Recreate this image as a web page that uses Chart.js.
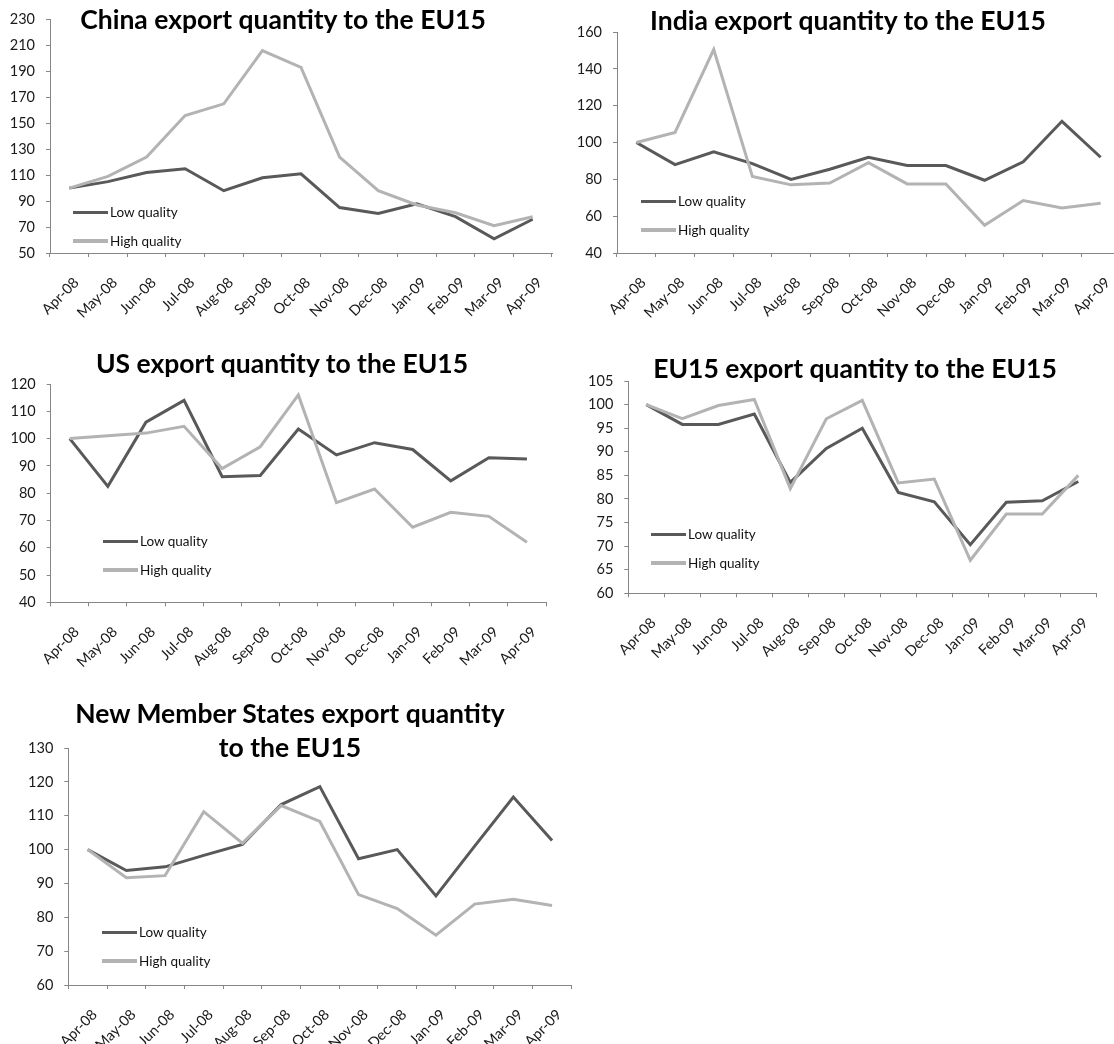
<!DOCTYPE html>
<html>
<head>
<meta charset="utf-8">
<script src="https://cdn.jsdelivr.net/npm/chart.js@4.4.0/dist/chart.umd.min.js"></script>
<style>
  html, body { margin: 0; padding: 0; background: #ffffff; }
  body { width: 1114px; height: 1044px; position: relative; overflow: hidden; font-family: Lato, "DejaVu Sans", sans-serif; }
  .box { position: absolute; }
  .box canvas { position: absolute; left: 0; top: 0; }
  .title { position: absolute; font-weight: 700; font-size: 26.5px; color: #000; white-space: nowrap; text-align: center; line-height: 34px; transform: translateX(-50%); }
  .leg { position: absolute; font-size: 13.5px; color: #111; white-space: nowrap; line-height: 16px; }
  .leg span.ln { display: inline-block; width: 35px; height: 3.5px; vertical-align: middle; margin-right: 2px; position: relative; top: -1px; }
</style>
</head>
<body>
<script>
// ---------- data ----------
const months = ['Apr-08','May-08','Jun-08','Jul-08','Aug-08','Sep-08','Oct-08','Nov-08','Dec-08','Jan-09','Feb-09','Mar-09','Apr-09'];
const seriesNames = ['Low quality', 'High quality'];

const chinaLow  = [100, 105, 112, 115, 98, 108, 111, 85, 80.5, 88, 78, 61, 76];
const chinaHigh = [100, 109, 124, 156, 165, 206, 193, 124, 98, 87, 81, 71, 78];

const indiaLow  = [100, 88, 95, 88.5, 80, 85.5, 92, 87.5, 87.5, 79.5, 89.5, 111.5, 92];
const indiaHigh = [100, 105.5, 150.5, 81.5, 77, 78, 89, 77.5, 77.5, 55, 68.5, 64.5, 67];

const usLow  = [100, 82.5, 106, 114, 86, 86.5, 103.5, 94, 98.5, 96, 84.5, 93, 92.5];
const usHigh = [100, 101, 102, 104.5, 89, 97, 116, 76.5, 81.5, 67.5, 73, 71.5, 62];

const eu15Low  = [100, 95.8, 95.8, 98, 83.5, 90.7, 95, 81.4, 79.4, 70.3, 79.3, 79.6, 83.7];
const eu15High = [100, 97, 99.8, 101.1, 82.2, 97, 100.9, 83.4, 84.2, 67, 76.8, 76.8, 85];

const nmsLow  = [100, 93.8, 94.9, 98.3, 101.5, 113.3, 118.6, 97.3, 100, 86.3, 101, 115.5, 102.7];
const nmsHigh = [100, 91.7, 92.3, 111.2, 101.9, 113, 108.3, 86.7, 82.6, 74.7, 83.9, 85.3, 83.5];

const titles = [
  ['China export quantity to the EU15'],
  ['India export quantity to the EU15'],
  ['US export quantity to the EU15'],
  ['EU15 export quantity to the EU15'],
  ['New Member States export quantity', 'to the EU15']
];
const yRanges = [[50, 230, 20], [40, 160, 20], [40, 120, 10], [60, 105, 5], [60, 130, 10]];

// ---------- layout (page coordinates) ----------
const panels = [
  { L: 0,   T: 0,   W: 560, H: 340, ax: 50,    top: 19.5, bot: 253,   end: 552,
    low: chinaLow, high: chinaHigh, tx: 283, ty: 2, legX: 73, legY: 204 },
  { L: 560, T: 0,   W: 566, H: 340, ax: 617,   top: 32,   bot: 253,   end: 1120,
    low: indiaLow, high: indiaHigh, tx: 848, ty: 3, legX: 641, legY: 193 },
  { L: 0,   T: 340, W: 560, H: 345, ax: 50.7,  top: 384,  bot: 602.3, end: 546,
    low: usLow, high: usHigh, tx: 282, ty: 346, legX: 103, legY: 533 },
  { L: 560, T: 340, W: 554, H: 345, ax: 628.3, top: 381,  bot: 593.3, end: 1096.3,
    low: eu15Low, high: eu15High, tx: 855, ty: 351, legX: 651, legY: 526 },
  { L: 0,   T: 690, W: 600, H: 354, ax: 68.3,  top: 748,  bot: 985,   end: 571.4,
    low: nmsLow, high: nmsHigh, tx: 290, ty: 696, legX: 102, legY: 924 }
];

const LOW_COLOR = '#595959';
const HIGH_COLOR = '#b3b3b3';
const AXIS_COLOR = '#868686';
Chart.defaults.font.family = 'Lato, "DejaVu Sans", sans-serif';

panels.forEach((p, i) => {
  const box = document.createElement('div');
  box.className = 'box';
  box.style.left = p.L + 'px'; box.style.top = p.T + 'px';
  box.style.width = p.W + 'px'; box.style.height = p.H + 'px';
  const cv = document.createElement('canvas');
  cv.width = p.W; cv.height = p.H;
  cv.style.width = p.W + 'px'; cv.style.height = p.H + 'px';
  box.appendChild(cv);
  document.body.appendChild(box);

  const yW = p.ax - p.L;
  const xH = (p.T + p.H) - p.bot;
  const padTop = p.top - p.T;
  const padRight = p.W - (p.end - p.L);
  const [ymin, ymax, ystep] = yRanges[i];

  new Chart(cv.getContext('2d'), {
    type: 'line',
    data: {
      labels: months,
      datasets: [
        { label: seriesNames[0], data: p.low, borderColor: LOW_COLOR, backgroundColor: LOW_COLOR,
          borderWidth: 3, pointRadius: 0, tension: 0, fill: false, order: 1 },
        { label: seriesNames[1], data: p.high, borderColor: HIGH_COLOR, backgroundColor: HIGH_COLOR,
          borderWidth: 3, pointRadius: 0, tension: 0, fill: false, order: 0 }
      ]
    },
    options: {
      responsive: false,
      animation: false,
      devicePixelRatio: 1,
      layout: { padding: { left: 0, top: padTop, right: padRight, bottom: 0 } },
      plugins: { legend: { display: false }, title: { display: false }, tooltip: { enabled: false } },
      scales: {
        x: {
          type: 'category',
          offset: true,
          grid: { offset: true, drawOnChartArea: false, drawTicks: true, tickLength: 4, color: AXIS_COLOR, lineWidth: 1 },
          border: { display: true, color: AXIS_COLOR, width: 1 },
          ticks: { autoSkip: false, minRotation: 45, maxRotation: 45, padding: 17, labelOffset: 7,
                   color: '#1a1a1a', font: { size: 14.5 } },
          afterFit: (s) => { s.height = xH; s.paddingLeft = 0; s.paddingRight = 0; }
        },
        y: {
          min: ymin, max: ymax,
          grid: { drawOnChartArea: false, drawTicks: true, tickLength: 4, color: AXIS_COLOR, lineWidth: 1 },
          border: { display: true, color: AXIS_COLOR, width: 1 },
          ticks: { stepSize: ystep, padding: 11, color: '#1a1a1a', font: { size: 14.5 } },
          afterFit: (s) => { s.width = yW; s.paddingTop = 0; s.paddingBottom = 0; }
        }
      }
    }
  });

  // title
  titles[i].forEach((line, k) => {
    const t = document.createElement('div');
    t.className = 'title';
    t.textContent = line;
    t.style.left = p.tx + 'px';
    t.style.top = (p.ty + k * 34) + 'px';
    document.body.appendChild(t);
  });

  // legend
  [[seriesNames[0], LOW_COLOR, 0], [seriesNames[1], HIGH_COLOR, 1]].forEach(([name, col, k]) => {
    const lg = document.createElement('div');
    lg.className = 'leg';
    lg.style.left = p.legX + 'px';
    lg.style.top = (p.legY + k * 28.5) + 'px';
    const ln = document.createElement('span');
    ln.className = 'ln';
    ln.style.background = col;
    lg.appendChild(ln);
    lg.appendChild(document.createTextNode(name));
    document.body.appendChild(lg);
  });
});
</script>
</body>
</html>
